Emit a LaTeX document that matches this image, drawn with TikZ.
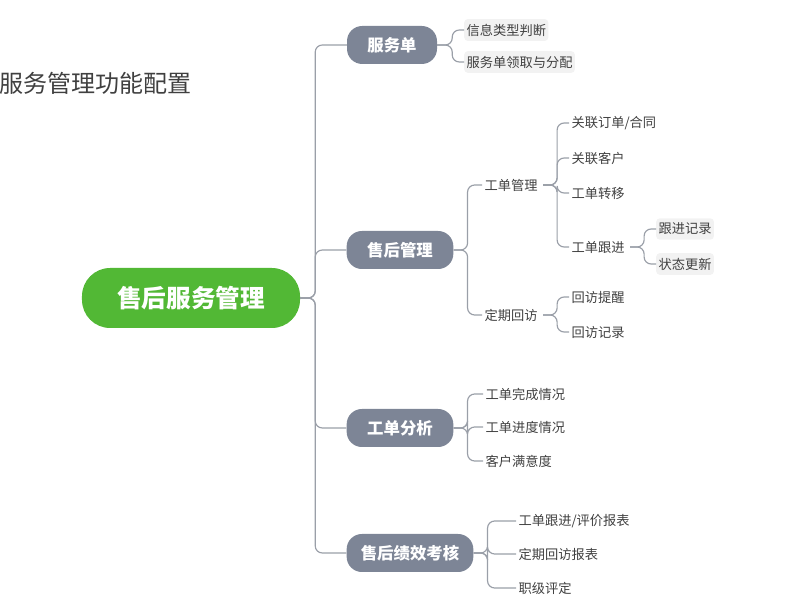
\documentclass[tikz,border=0pt]{standalone}
\usepackage{fontspec}
\setmainfont{Noto Sans CJK SC}
\usetikzlibrary{positioning}
\definecolor{hubgray}{HTML}{7D8596}
\definecolor{rootgreen}{HTML}{52B835}
\definecolor{linegray}{HTML}{9A9FA8}
\definecolor{leafbg}{HTML}{F2F2F2}
\tikzset{root/.style={rectangle,rounded corners=24pt,fill=rootgreen,text=white,font=\fontsize{21}{21}\selectfont\bfseries,minimum width=6.54cm,minimum height=1.8cm},
hub/.style={rectangle,rounded corners=13pt,fill=hubgray,text=white,font=\fontsize{14}{14}\selectfont\bfseries,minimum height=1.14cm,inner xsep=10pt},
leaf/.style={anchor=west,font=\fontsize{11.3}{11.3}\selectfont,text=black!75,inner xsep=2pt},
boxleaf/.style={leaf,fill=leafbg,rounded corners=3pt,inner ysep=4pt},
link/.style={draw=linegray,line width=1pt,rounded corners=6pt}}
\begin{document}
\begin{tikzpicture}[x=0.03cm,y=-0.03cm]
\useasboundingbox (0,0) rectangle (800,600);
\clip (0,0) rectangle (800,600);
\node[anchor=east,font=\fontsize{20.5}{21}\selectfont,text=black!75] (title) at (196,83) {服务管理功能配置};
\node[root] (sh) at (191,298) {售后服务管理};
% level 1
\node[hub,minimum width=2.7cm] (fwd) at (392,45) {服务单};
\node[hub,minimum width=3.2cm] (shgl) at (400,250) {售后管理};
\node[hub,minimum width=3.2cm] (gdfx) at (400,428) {工单分析};
\node[hub,minimum width=3.8cm] (jxkh) at (410,553) {售后绩效考核};
\foreach \n in {fwd,shgl,gdfx,jxkh}
  \draw[link] (sh.east) -- ++(15,0) |- (\n.west);
% 服务单
\node[boxleaf] (xxlx) at (464,30) {信息类型判断};
\node[boxleaf] (lqfp) at (464,62) {服务单领取与分配};
\foreach \n in {xxlx,lqfp}
  \draw[link] (fwd.east) -- ++(15,0) |- (\n.west);
% 售后管理
\node[leaf] (gdgl) at (482,185) {工单管理};
\node[leaf] (dqhf) at (482,315) {定期回访};
\foreach \n in {gdgl,dqhf}
  \draw[link] (shgl.east) -- ++(14,0) |- (\n.west);
\node[leaf] (gldd) at (569,123) {关联订单/合同};
\node[leaf] (glkh) at (569,158) {关联客户};
\node[leaf] (gdzy) at (569,193) {工单转移};
\node[leaf] (gdgj) at (569,247) {工单跟进};
\foreach \n in {gldd,glkh,gdzy,gdgj}
  \draw[link] (gdgl.east) ++(3,0) -- ++(14,0) |- (\n.west);
\node[boxleaf] (gjjl) at (656,229) {跟进记录};
\node[boxleaf] (ztgx) at (656,264) {状态更新};
\foreach \n in {gjjl,ztgx}
  \draw[link] (gdgj.east) ++(3,0) -- ++(14,0) |- (\n.west);
\node[leaf] (hftx) at (569,297) {回访提醒};
\node[leaf] (hfjl) at (569,332) {回访记录};
\foreach \n in {hftx,hfjl}
  \draw[link] (dqhf.east) ++(3,0) -- ++(14,0) |- (\n.west);
% 工单分析
\node[leaf] (wcqk) at (483,394) {工单完成情况};
\node[leaf] (jdqk) at (483,427) {工单进度情况};
\node[leaf] (myd) at (483,461) {客户满意度};
\foreach \n in {wcqk,jdqk,myd}
  \draw[link] (gdfx.east) -- ++(14,0) |- (\n.west);
% 售后绩效考核
\node[leaf] (pjbb) at (516,521) {工单跟进/评价报表};
\node[leaf] (hfbb) at (516,554) {定期回访报表};
\node[leaf] (zjpd) at (516,588) {职级评定};
\foreach \n in {pjbb,hfbb,zjpd}
  \draw[link] (jxkh.east) -- ++(14,0) |- (\n.west);
\end{tikzpicture}
\end{document}
